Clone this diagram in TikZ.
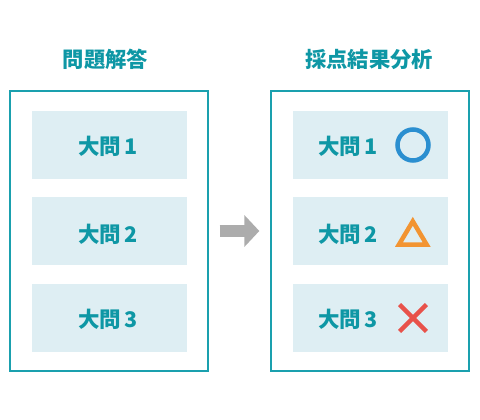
\documentclass[tikz,border=0pt]{standalone}
\usepackage{fontspec}
\newfontfamily\jpfont{Noto Sans CJK JP}
\usetikzlibrary{arrows.meta, positioning}
\definecolor{sheetTeal}{RGB}{26,160,174}
\definecolor{sheetText}{RGB}{14,151,165}
\definecolor{sheetSoft}{RGB}{222,238,243}
\definecolor{sheetGray}{RGB}{172,172,172}
\definecolor{markBlue}{RGB}{43,143,208}
\definecolor{markOrange}{RGB}{242,148,50}
\definecolor{markRed}{RGB}{232,82,74}

\begin{document}
\begin{tikzpicture}[x=1pt, y=-1pt,
    sheet/.style={draw=sheetTeal, line width=1.3pt, minimum width=198pt, minimum height=280pt, inner sep=0pt},
    qbox/.style={fill=sheetSoft, minimum width=155pt, minimum height=68pt, inner sep=0pt},
    qtext/.style={inner sep=0pt, font=\jpfont\bfseries\fontsize{21.5}{24}\selectfont, text=sheetText},
    heading/.style={inner sep=0pt, font=\jpfont\bfseries\fontsize{21.3}{24}\selectfont, text=sheetText},
    bigarrow/.style={-{Triangle[length=15pt,width=31pt]}, line width=12.5pt, draw=sheetGray, shorten <=11pt, shorten >=11pt},
    markline/.style={line width=4.5pt},
    node distance=18pt
]
    \useasboundingbox (0,0) rectangle (480,420);

    % answer sheet
    \node[sheet] (qsheet) at (109,231) {};
    \node[heading] (qhead) at (105.5,59.5) {問題解答};
    \node[qbox] (q1) at (109.5,145) {};
    \node[qbox, below=of q1] (q2) {};
    \node[qbox, below=of q2] (q3) {};
    \node[qtext] (q1t) at (108,146) {大問\,1};
    \node[qtext] (q2t) at (108,234) {大問\,2};
    \node[qtext] (q3t) at (108,319.5) {大問\,3};

    % graded sheet
    \node[sheet] (rsheet) at (370,231) {};
    \node[heading] (rhead) at (369,59.5) {採点結果分析};
    \node[qbox] (r1) at (370.5,145) {};
    \node[qbox, below=of r1] (r2) {};
    \node[qbox, below=of r2] (r3) {};
    \node[qtext] (r1t) at (348,146) {大問\,1};
    \node[qtext] (r2t) at (348,234) {大問\,2};
    \node[qtext] (r3t) at (348,319.5) {大問\,3};

    % marks
    \node[circle, draw=markBlue, markline, minimum size=31pt, inner sep=0pt] (ok1) at (413,145) {};
    \draw[markline, draw=markOrange, line join=miter] (399,244.5) -- (426.6,244.5) -- (412.8,221.3) -- cycle;
    \draw[markline, draw=markRed] (399.6,304.6) -- (426.4,331.4) (399.6,331.4) -- (426.4,304.6);

    \draw[bigarrow] (qsheet) -- (rsheet);
\end{tikzpicture}
\end{document}
